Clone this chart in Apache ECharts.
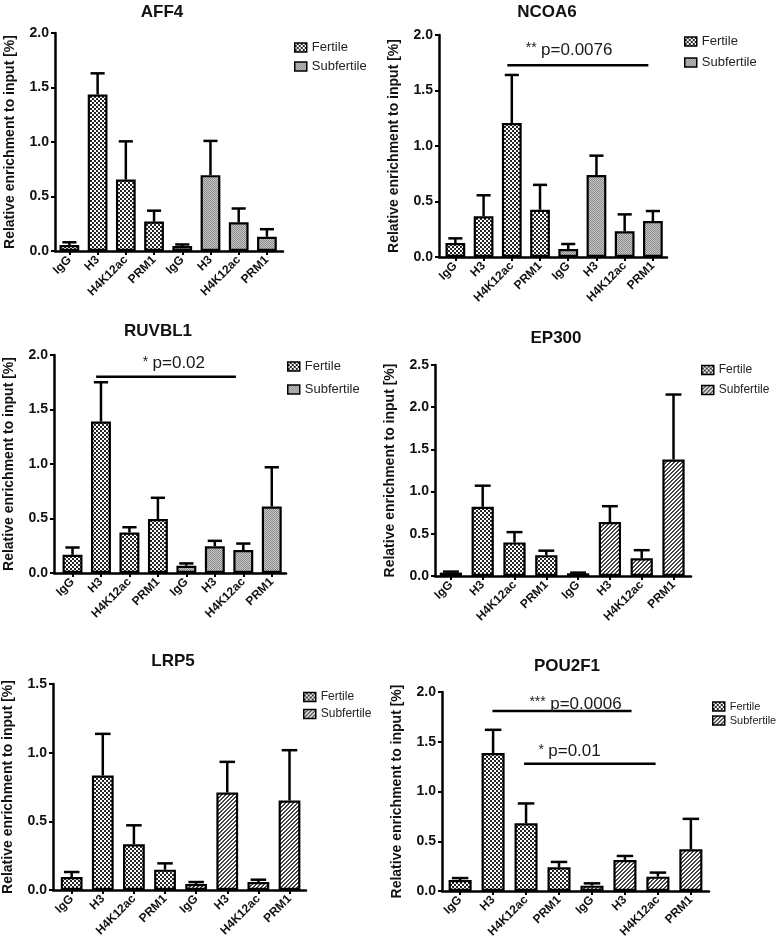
<!DOCTYPE html>
<html><head><meta charset="utf-8">
<script src="https://cdn.jsdelivr.net/npm/echarts@6/dist/echarts.min.js"></script>
<style>html,body{margin:0;padding:0;background:#fff}#c{width:778px;height:945px}</style>
</head><body><div id="c"></div>
<script>
// ---------- DATA ----------
const categories = ['IgG','H3','H4K12ac','PRM1','IgG','H3','H4K12ac','PRM1'];
const groups = ['Fertile','Subfertile'];
const yTitle = 'Relative enrichment to input [%]';

const aff4Fertile = [0.055, 1.435, 0.656, 0.27];
const aff4FertileSem = [0.025, 0.195, 0.35, 0.10];
const aff4Subfertile = [0.046, 0.696, 0.263, 0.131];
const aff4SubfertileSem = [0.014, 0.314, 0.127, 0.069];

const ncoa6Fertile = [0.126, 0.366, 1.207, 0.426];
const ncoa6FertileSem = [0.042, 0.19, 0.433, 0.224];
const ncoa6Subfertile = [0.072, 0.739, 0.231, 0.324];
const ncoa6SubfertileSem = [0.045, 0.174, 0.153, 0.09];

const ruvbl1Fertile = [0.167, 1.39, 0.371, 0.495];
const ruvbl1FertileSem = [0.067, 0.36, 0.049, 0.195];
const ruvbl1Subfertile = [0.067, 0.246, 0.21, 0.61];
const ruvbl1SubfertileSem = [0.021, 0.049, 0.06, 0.36];

const ep300Fertile = [0.04, 0.82, 0.398, 0.247];
const ep300FertileSem = [0.012, 0.25, 0.122, 0.053];
const ep300Subfertile = [0.032, 0.64, 0.21, 1.38];
const ep300SubfertileSem = [0.008, 0.187, 0.096, 0.77];

const lrp5Fertile = [0.095, 0.834, 0.333, 0.148];
const lrp5FertileSem = [0.036, 0.303, 0.138, 0.046];
const lrp5Subfertile = [0.044, 0.71, 0.058, 0.651];
const lrp5SubfertileSem = [0.014, 0.223, 0.017, 0.367];

const pou2f1Fertile = [0.11, 1.386, 0.681, 0.238];
const pou2f1FertileSem = [0.02, 0.234, 0.199, 0.054];
const pou2f1Subfertile = [0.054, 0.312, 0.144, 0.419];
const pou2f1SubfertileSem = [0.023, 0.04, 0.041, 0.306];

// significance annotations: [fromIndex, toIndex, lineValue, textIndex, textValue]
const ncoa6Sig = [[1.84, 6.84, 1.727, 4.03, 1.86]];
const ncoa6SigText = [['**', 'p=0.0076']];
const ruvbl1Sig = [[0.83, 5.74, 1.80, 3.56, 1.92]];
const ruvbl1SigText = [['*', 'p=0.02']];
const pou2f1Sig = [[0.98, 5.2, 1.81, 3.5, 1.88], [1.94, 5.93, 1.28, 3.32, 1.40]];
const pou2f1SigText = [['***', 'p=0.0006'], ['*', 'p=0.01']];

const yMax = [2.0, 2.0, 2.0, 2.5, 1.5, 2.0];
const titles = ['AFF4','NCOA6','RUVBL1','EP300','LRP5','POU2F1'];
const catIndex = [0, 1, 2, 3, 4, 5, 6, 7];

// ---------- PATTERNS ----------
function makeTile(w, h, draw){const c=document.createElement('canvas');c.width=w;c.height=h;const x=c.getContext('2d');draw(x);return c;}
const checkTile = makeTile(4,4,function(x){x.fillStyle='#262626';x.fillRect(0,0,4,4);x.fillStyle='#ffffff';x.fillRect(0,0,2,2);x.fillRect(2,2,2,2);});
const greyTile = makeTile(2,2,function(x){x.fillStyle='#c6c6c6';x.fillRect(0,0,2,2);x.fillStyle='#8c8c8c';x.fillRect(0,0,1,1);x.fillRect(1,1,1,1);});
const hatchTile = makeTile(4,4,function(x){x.fillStyle='#ffffff';x.fillRect(0,0,4,4);x.fillStyle='#444444';for(let r=0;r<4;r++){x.fillRect((3-r+4)%4,r,1,1);x.fillRect((4-r)%4,r,1,1);}});
const fertileFill = {image: checkTile, repeat: 'repeat'};
const greyFill = {image: greyTile, repeat: 'repeat'};
const hatchFill = {image: hatchTile, repeat: 'repeat'};

// ---------- LAYOUT ----------
const FONT = 'Arial, "Liberation Sans", sans-serif';
const panels = [
  {f: aff4Fertile, fs: aff4FertileSem, s: aff4Subfertile, ss: aff4SubfertileSem, sig: [], sigText: [], sub: greyFill,
   grid: {left:55, top:33, width:228, height:218}, xr:[-0.51, 7.57], title:[157,-1], legend:{left:289, top:36, gap:6, fs:13}},
  {f: ncoa6Fertile, fs: ncoa6FertileSem, s: ncoa6Subfertile, ss: ncoa6SubfertileSem, sig: ncoa6Sig, sigText: ncoa6SigText, sub: greyFill,
   grid: {left:439, top:35, width:228, height:222}, xr:[-0.58, 7.5], title:[542,-1], legend:{left:679, top:30, gap:8, fs:13}},
  {f: ruvbl1Fertile, fs: ruvbl1FertileSem, s: ruvbl1Subfertile, ss: ruvbl1SubfertileSem, sig: ruvbl1Sig, sigText: ruvbl1SigText, sub: greyFill,
   grid: {left:54, top:355, width:232, height:218}, xr:[-0.65, 7.5], title:[153,318], legend:{left:282, top:355, gap:10, fs:13}},
  {f: ep300Fertile, fs: ep300FertileSem, s: ep300Subfertile, ss: ep300SubfertileSem, sig: [], sigText: [], sub: hatchFill,
   grid: {left:435, top:365, width:256, height:211}, xr:[-0.5, 7.55], title:[551,325], legend:{left:696, top:359, gap:8, fs:12}},
  {f: lrp5Fertile, fs: lrp5FertileSem, s: lrp5Subfertile, ss: lrp5SubfertileSem, sig: [], sigText: [], sub: hatchFill,
   grid: {left:51, top:684, width:255, height:206}, xr:[-0.6, 7.53], title:[168,648], legend:{left:298, top:686, gap:5, fs:12}},
  {f: pou2f1Fertile, fs: pou2f1FertileSem, s: pou2f1Subfertile, ss: pou2f1SubfertileSem, sig: pou2f1Sig, sigText: pou2f1SigText, sub: hatchFill,
   grid: {left:442, top:692, width:267, height:199}, xr:[-0.55, 7.55], title:[562,653], legend:{left:707, top:696, gap:3, fs:11}}
];

function errRender(params, api){
  const i = api.value(0), v = api.value(1), e = api.value(2);
  const b = api.coord([i, v]); const t = api.coord([i, v + e]);
  const w = api.size([1, 0])[0] * 0.25;
  const st = {stroke:'#000', lineWidth:2.5};
  return {type:'group', children:[
    {type:'line', shape:{x1:b[0], y1:b[1], x2:t[0], y2:t[1]}, style:st},
    {type:'line', shape:{x1:t[0]-w, y1:t[1], x2:t[0]+w, y2:t[1]}, style:st}
  ]};
}
function makeSigRender(texts){
  return function(params, api){
    const a = api.coord([api.value(0), api.value(2)]);
    const b = api.coord([api.value(1), api.value(2)]);
    const t = api.coord([api.value(3), api.value(4)]);
    const tx = texts[params.dataIndex];
    return {type:'group', children:[
      {type:'line', shape:{x1:a[0], y1:a[1], x2:b[0], y2:b[1]}, style:{stroke:'#000', lineWidth:2.5}},
      {type:'text', x: t[0], y: t[1], style:{
        text: '{s|' + tx[0] + '} {p|' + tx[1] + '}',
        align:'center', verticalAlign:'middle', fill:'#1a1a1a', font: '16px ' + FONT,
        rich:{s:{fontSize:14, fontFamily:FONT, verticalAlign:'top', lineHeight:18, fill:'#1a1a1a'},
              p:{fontSize:17, fontFamily:FONT, lineHeight:18, fill:'#1a1a1a'}}
      }}
    ]};
  };
}

const option = {animation:false, backgroundColor:'#fff', title:[], legend:[], grid:[], xAxis:[], yAxis:[], series:[]};
panels.forEach(function(p, k){
  option.title.push({text: titles[k], left: p.title[0], top: p.title[1], textAlign:'center',
    textStyle:{fontFamily:FONT, fontSize:17, fontWeight:'bold', color:'#111'}});
  option.legend.push({orient:'vertical', left:p.legend.left, top:p.legend.top, itemWidth:12, itemHeight:9, itemGap:p.legend.gap,
    selectedMode:false, icon:'rect', textStyle:{fontFamily:FONT, fontSize:p.legend.fs, color:'#222'},
    data:[{name:groups[0], icon:'rect', itemStyle:{color:fertileFill, borderColor:'#000', borderWidth:1.5}},
          {name:groups[1], icon:'rect', itemStyle:{color:p.sub, borderColor:'#000', borderWidth:1.5}}]});
  option.grid.push({left:p.grid.left, top:p.grid.top, width:p.grid.width, height:p.grid.height, containLabel:false});
  option.xAxis.push({type:'value', gridIndex:k, min:p.xr[0], max:p.xr[1], splitLine:{show:false},
    axisLine:{show:true, onZero:false, lineStyle:{color:'#000', width:2.5}},
    axisTick:{show:true, customValues:catIndex, length:4, lineStyle:{width:2, color:'#000'}},
    axisLabel:{customValues:catIndex, rotate:45, margin:7, fontFamily:FONT, fontSize:12, fontWeight:'bold', color:'#111',
      formatter:function(v){return categories[Math.round(v)];}}});
  option.yAxis.push({type:'value', gridIndex:k, min:0, max:yMax[k], interval:0.5,
    name:yTitle, nameLocation:'middle', nameGap:38, nameRotate:90,
    nameTextStyle:{fontFamily:FONT, fontSize:14, fontWeight:'bold', color:'#111'},
    splitLine:{show:false}, axisLine:{show:true, onZero:false, lineStyle:{color:'#000', width:2.5}},
    axisTick:{show:true, length:4, lineStyle:{width:2, color:'#000'}},
    axisLabel:{margin:6, fontFamily:FONT, fontSize:14, fontWeight:'bold', color:'#111', formatter:function(v){return v.toFixed(1);}}});
  const fData = p.f.map(function(v, i){return [catIndex[i], v];});
  const sData = p.s.map(function(v, i){return [catIndex[i+4], v];});
  option.series.push({type:'bar', name:groups[0], xAxisIndex:k, yAxisIndex:k, data:fData, barWidth:'70%', barGap:'-100%',
    itemStyle:{color:fertileFill, borderColor:'#000', borderWidth:2.2}, z:2});
  option.series.push({type:'bar', name:groups[1], xAxisIndex:k, yAxisIndex:k, data:sData, barWidth:'70%', barGap:'-100%',
    itemStyle:{color:p.sub, borderColor:'#000', borderWidth:2.2}, z:2});
  const err = [];
  p.f.forEach(function(v, i){err.push([catIndex[i], v, p.fs[i]]);});
  p.s.forEach(function(v, i){err.push([catIndex[i+4], v, p.ss[i]]);});
  option.series.push({type:'custom', xAxisIndex:k, yAxisIndex:k, renderItem:errRender, data:err, z:3, silent:true});
  if (p.sig.length) option.series.push({type:'custom', xAxisIndex:k, yAxisIndex:k, renderItem:makeSigRender(p.sigText), data:p.sig, z:4, silent:true, clip:false});
});
const chart = echarts.init(document.getElementById('c'), null, {renderer:'canvas'});
chart.setOption(option);
</script></body></html>
